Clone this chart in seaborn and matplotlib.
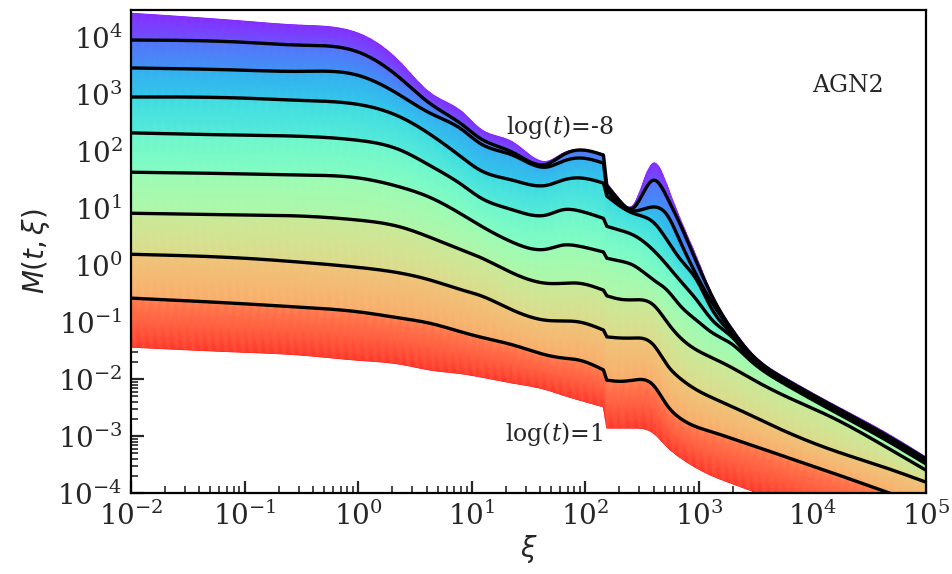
import numpy as np
import pandas as pd
import matplotlib
matplotlib.use("Agg")
import matplotlib.pyplot as plt
from matplotlib.colors import ListedColormap
from matplotlib.ticker import LogLocator, NullFormatter
import seaborn as sns

# log10(xi) sample positions shared by every curve
log_xi = [-2.0, -1.0, -0.5, 0.0, 0.37, 0.63, 0.92, 1.07, 1.36, 1.66, 1.8, 1.95,
          2.16, 2.19, 2.31, 2.42, 2.6, 2.72, 2.83, 2.98, 3.12, 3.3, 3.45, 3.74,
          4.18, 4.62, 5.0]
# index of the first sample after the sharp drop near xi ~ 150
JUMP = 13

# upper edge of the coloured family of curves, log10 M
log_M_top = [4.42, 4.28, 4.21, 4.07, 3.56, 3.03, 2.68, 2.40, 2.16, 1.82, 1.96, 2.03,
             1.95, 1.44, 1.14, 1.05, 1.79, 1.40, 0.84, 0.14, -0.53, -1.12, -1.51, -1.95,
             -2.44, -2.91, -3.37]

# highlighted curves, log10 M, one list per log(t)
log_t = [-8, -7, -6, -5, -4, -3, -2, -1]
log_M_t8 = [3.95, 3.91, 3.86, 3.74, 3.28, 2.84, 2.46, 2.23, 1.98, 1.77, 1.93, 2.02,
            1.93, 1.39, 1.11, 1.00, 1.49, 1.19, 0.74, 0.05, -0.56, -1.16, -1.54, -1.98,
            -2.47, -2.95, -3.40]
log_M_t7 = [3.46, 3.42, 3.40, 3.33, 2.98, 2.67, 2.37, 2.14, 1.93, 1.72, 1.82, 1.88,
            1.79, 1.32, 1.05, 0.95, 1.02, 0.88, 0.44, -0.18, -0.67, -1.19, -1.58, -2.00,
            -2.49, -2.97, -3.42]
log_M_t6 = [2.95, 2.93, 2.89, 2.82, 2.60, 2.30, 1.88, 1.67, 1.49, 1.40, 1.49, 1.53,
            1.44, 1.21, 1.03, 0.91, 0.75, 0.44, 0.12, -0.26, -0.79, -1.23, -1.60, -2.02,
            -2.51, -2.98, -3.44]
log_M_t5 = [2.32, 2.28, 2.26, 2.19, 2.02, 1.75, 1.40, 1.19, 0.97, 0.88, 0.97, 0.95,
            0.82, 0.68, 0.61, 0.53, 0.26, 0.00, -0.26, -0.61, -0.97, -1.28, -1.63, -2.04,
            -2.53, -3.00, -3.46]
log_M_t4 = [1.63, 1.60, 1.58, 1.53, 1.37, 1.19, 0.88, 0.70, 0.40, 0.28, 0.35, 0.33,
            0.23, 0.12, 0.07, 0.00, -0.26, -0.44, -0.70, -0.97, -1.19, -1.40, -1.67, -2.07,
            -2.56, -3.04, -3.49]
log_M_t3 = [0.91, 0.88, 0.86, 0.79, 0.67, 0.49, 0.26, 0.14, -0.14, -0.32, -0.32, -0.32,
            -0.44, -0.54, -0.60, -0.61, -0.70, -1.00, -1.26, -1.49, -1.63, -1.81, -1.98, -2.28,
            -2.68, -3.16, -3.60]
log_M_t2 = [0.19, 0.12, 0.05, -0.04, -0.14, -0.26, -0.44, -0.53, -0.79, -0.97, -0.98, -1.00,
            -1.14, -1.26, -1.28, -1.28, -1.40, -1.75, -1.98, -2.19, -2.33, -2.49, -2.63, -2.90,
            -3.25, -3.54, -3.81]
log_M_t1 = [-0.58, -0.68, -0.74, -0.82, -0.93, -1.02, -1.18, -1.26, -1.40, -1.58, -1.63, -1.67,
            -1.84, -2.02, -2.04, -2.02, -2.11, -2.46, -2.68, -2.84, -2.93, -3.05, -3.15, -3.35,
            -3.65, -3.96, -4.23]

# lower edge of the coloured family of curves, log10 M
log_M_bottom = [-1.44, -1.53, -1.58, -1.67, -1.74, -1.84, -1.91, -1.96, -2.07, -2.19, -2.28, -2.37,
                -2.49, -2.86, -2.86, -2.86, -2.95, -3.19, -3.37, -3.56, -3.70, -3.84, -3.95, -4.12,
                -4.39, -4.65, -4.91]

highlighted = [log_M_t8, log_M_t7, log_M_t6, log_M_t5, log_M_t4, log_M_t3, log_M_t2, log_M_t1]


def natural_spline(x, y, xn):
    """Natural cubic spline through (x, y), evaluated at xn."""
    x = np.asarray(x, float)
    y = np.asarray(y, float)
    n = len(x)
    h = np.diff(x)
    A = np.zeros((n, n))
    r = np.zeros(n)
    A[0, 0] = A[-1, -1] = 1.0
    for i in range(1, n - 1):
        A[i, i - 1] = h[i - 1]
        A[i, i] = 2 * (h[i - 1] + h[i])
        A[i, i + 1] = h[i]
        r[i] = 3 * ((y[i + 1] - y[i]) / h[i] - (y[i] - y[i - 1]) / h[i - 1])
    c = np.linalg.solve(A, r)
    b = np.diff(y) / h - h * (2 * c[:-1] + c[1:]) / 3
    d = np.diff(c) / (3 * h)
    i = np.clip(np.searchsorted(x, xn, side="right") - 1, 0, n - 2)
    dx = xn - x[i]
    return y[i] + b[i] * dx + c[i] * dx**2 + d[i] * dx**3


def curve_on(grid, y):
    """Smooth curve on both sides of the drop, joined by a straight step."""
    xs = np.asarray(log_xi)
    y = np.asarray(y, float)
    left = grid <= xs[JUMP - 1]
    right = grid >= xs[JUMP]
    out = np.interp(grid, xs, y)
    out[left] = natural_spline(xs[:JUMP], y[:JUMP], grid[left])
    out[right] = natural_spline(xs[JUMP:], y[JUMP:], grid[right])
    return out


sns.set_style("ticks")
plt.rcParams["font.family"] = ["DejaVu Serif"]
plt.rcParams["mathtext.fontset"] = "dejavuserif"

fig = plt.figure(figsize=(9.53, 5.74), dpi=100)
ax = fig.add_axes([131 / 953, 1 - 493 / 574, 795 / 953, 483 / 574])

grid = np.union1d(np.linspace(log_xi[0], log_xi[-1], 700), log_xi)
xi_fine = 10 ** grid

# rainbow shading between the edge curves and the highlighted curves
layers = [log_M_top] + highlighted + [log_M_bottom]
level = [0.0, 0.1, 0.2, 0.3, 0.4, 0.5, 0.6, 0.7, 0.8, 1.0]
X = np.tile(xi_fine, (len(layers), 1))
Y = 10 ** np.array([curve_on(grid, lay) for lay in layers])
C = np.repeat(np.asarray(level)[:, None], len(grid), axis=1)
rgb = plt.cm.rainbow(np.linspace(0, 1, 256))
rgb[:, :3] = rgb[:, :3] * 0.88 + 0.12
pale_rainbow = ListedColormap(rgb)
ax.pcolormesh(X, Y, C, shading="gouraud", cmap=pale_rainbow, vmin=0, vmax=1, zorder=1)

# highlighted black curves
df = pd.DataFrame({
    "xi": np.tile(xi_fine, len(highlighted)),
    "M": 10 ** np.concatenate([curve_on(grid, c) for c in highlighted]),
    "log_t": np.repeat(log_t, len(grid)),
})
sns.lineplot(data=df, x="xi", y="M", units="log_t", estimator=None, color="black",
             lw=2.4, legend=False, sort=False, ax=ax, zorder=3)

ax.set_xscale("log")
ax.set_yscale("log")
ax.set_xticks([10.0 ** k for k in range(-2, 6)])
ax.set_yticks([10.0 ** k for k in range(-4, 5)])
ax.xaxis.set_minor_locator(LogLocator(base=10, subs=np.arange(2, 10), numticks=12))
ax.yaxis.set_minor_locator(LogLocator(base=10, subs=np.arange(2, 10), numticks=12))
ax.xaxis.set_minor_formatter(NullFormatter())
ax.yaxis.set_minor_formatter(NullFormatter())
ax.set_xlim(1e-2, 1e5)
ax.set_ylim(1e-4, 3e4)

ax.set_xlabel(r"$\xi$", fontsize=20, math_fontfamily="dejavusans", labelpad=2)
ax.set_ylabel(r"$M(t,\xi)$", fontsize=20, math_fontfamily="dejavusans", labelpad=4)

ax.tick_params(which="major", direction="in", length=9, width=1.6, labelsize=20,
               top=False, right=False, pad=6)
ax.tick_params(which="minor", direction="in", length=5, width=1.2, top=False, right=False)
for sp in ax.spines.values():
    sp.set_linewidth(1.6)
    sp.set_color("black")

ax.text(60, 263, r"log($t$)=-8", fontsize=17, ha="center", va="center", zorder=4)
ax.text(53, 1.08e-3, r"log($t$)=1", fontsize=17, ha="center", va="center", zorder=4)
ax.text(0.902, 0.843, "AGN2", fontsize=17, ha="center", va="center", transform=ax.transAxes)

fig.savefig("out.png", dpi=100)
